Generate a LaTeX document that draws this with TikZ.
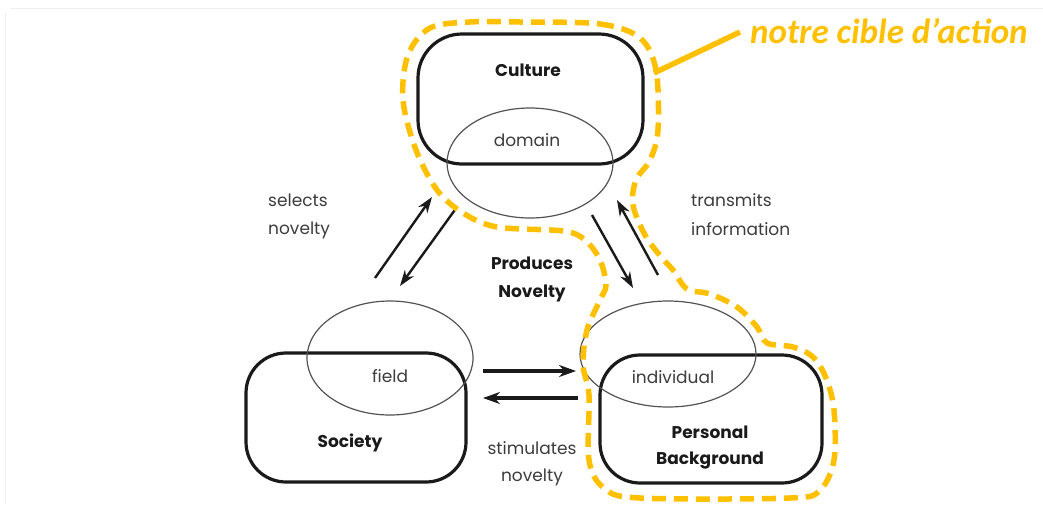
\documentclass[tikz,border=0pt]{standalone}
\usepackage{fontspec}
\setmainfont{Poppins}
\newfontfamily\calib{Carlito}
\usetikzlibrary{shapes.geometric,arrows.meta}
\definecolor{gold}{HTML}{FFC000}
\definecolor{ink}{HTML}{1A1A1A}
\tikzset{
  blob/.style={draw=ink, line width=3.2pt, rounded corners=44pt, inner sep=0pt},
  oval/.style={draw=ink!75, line width=1.2pt, ellipse, inner sep=0pt},
  lbl/.style={font=\fontsize{17}{20}\selectfont, text=ink!85, align=left, inner sep=0pt},
  blbl/.style={font=\fontsize{17}{20}\selectfont\bfseries, text=ink, align=center, inner sep=0pt},
  arr/.style={-{Stealth[length=16pt,width=11pt]}, line width=2.4pt, draw=ink},
  harr/.style={-{Stealth[length=17pt,width=12pt]}, line width=3.6pt, draw=ink},
  goldline/.style={draw=gold, line width=5.5pt, dash pattern=on 14pt off 8pt},
}
\begin{document}
\begin{tikzpicture}[x=1pt,y=-1pt]
\useasboundingbox (0,0) rectangle (1043,504);
\draw[black!6, line width=1pt] (10,8) -- (1043,8);
\draw[black!6, line width=1pt] (5,12) -- (5,504);

% main boxes
\node[blob, minimum width=225pt, minimum height=130pt] (culture) at (530.5,99) {};
\node[blob, minimum width=220pt, minimum height=129pt, rounded corners=40pt] (society) at (356,417.5) {};
\node[blob, minimum width=222pt, minimum height=128pt, rounded corners=40pt] (personal) at (711,419) {};

% ellipses
\node[oval, minimum width=166pt, minimum height=110pt] (domain) at (530,163) {};
\node[oval, minimum width=166pt, minimum height=114pt] (field) at (390,358) {};
\node[oval, minimum width=176pt, minimum height=106pt] (individual) at (668,354) {};

% labels
\node[blbl] (tculture) at (528,70) {Culture};
\node[lbl] (tdomain) at (527,140) {domain};
\node[lbl] (tfield) at (390,376) {field};
\node[lbl] (tindividual) at (673,377) {individual};
\node[blbl] (tsociety) at (350,443) {Society};
\node[blbl] (tpersonal) at (710,432) {Personal};
\node[blbl] (tbackground) at (710,461) {Background};
\node[blbl] (tproduces) at (532,263) {Produces};
\node[blbl] (tnovelty) at (532,293) {Novelty};
\node[lbl, anchor=west] (tselects) at (268,200) {selects};
\node[lbl, anchor=west] (tnov1) at (268,230) {novelty};
\node[lbl, anchor=west] (ttransmits) at (691,200) {transmits};
\node[lbl, anchor=west] (tinformation) at (691,229) {information};
\node[lbl] (tstimulates) at (532,448) {stimulates};
\node[lbl] (tnov2) at (532,477) {novelty};

% arrow end points
\coordinate (a1s) at (375,278); \coordinate (a1e) at (432,197);
\coordinate (a2s) at (457,207); \coordinate (a2e) at (400,286);
\coordinate (a3s) at (592,215); \coordinate (a3e) at (633,288);
\coordinate (a4s) at (658,275); \coordinate (a4e) at (617,200);
\coordinate (a5s) at (483,371); \coordinate (a5e) at (576,371);
\coordinate (a6s) at (578,398); \coordinate (a6e) at (483,398);
\draw[arr] (a1s) -- (a1e);
\draw[arr] (a2s) -- (a2e);
\draw[arr] (a3s) -- (a3e);
\draw[arr] (a4s) -- (a4e);
\draw[harr] (a5s) -- (a5e);
\draw[harr] (a6s) -- (a6e);

% orange outline
\draw[goldline] plot[smooth cycle, tension=0.55] coordinates {
 (520,22) (600,24) (640,38) (656,70) (658,130) (650,160) (636,180) (633,205)
 (645,235) (662,258) (673,270) (687,289) (710,294) (737,307) (757,327)
 (767,343) (793,347) (813,357) (826,378) (834,410) (834,460) (820,490)
 (790,498) (640,498) (604,488) (589,460) (589,395) (583,365) (587,330)
 (600,300) (606,285) (600,260) (585,240) (563,231) (497,227) (463,213)
 (437,190) (416,150) (403,100) (408,55) (430,28) (470,22)};
\coordinate (lead) at (654,73);
\coordinate (leadend) at (740,32);
\node[font=\calib\fontsize{35}{40}\selectfont\bfseries\itshape, text=gold, anchor=west, inner sep=0pt] (cible) at (750,31) {notre cible d’action};
\draw[gold, line width=5.5pt] (lead) -- (leadend);
\end{tikzpicture}
\end{document}
